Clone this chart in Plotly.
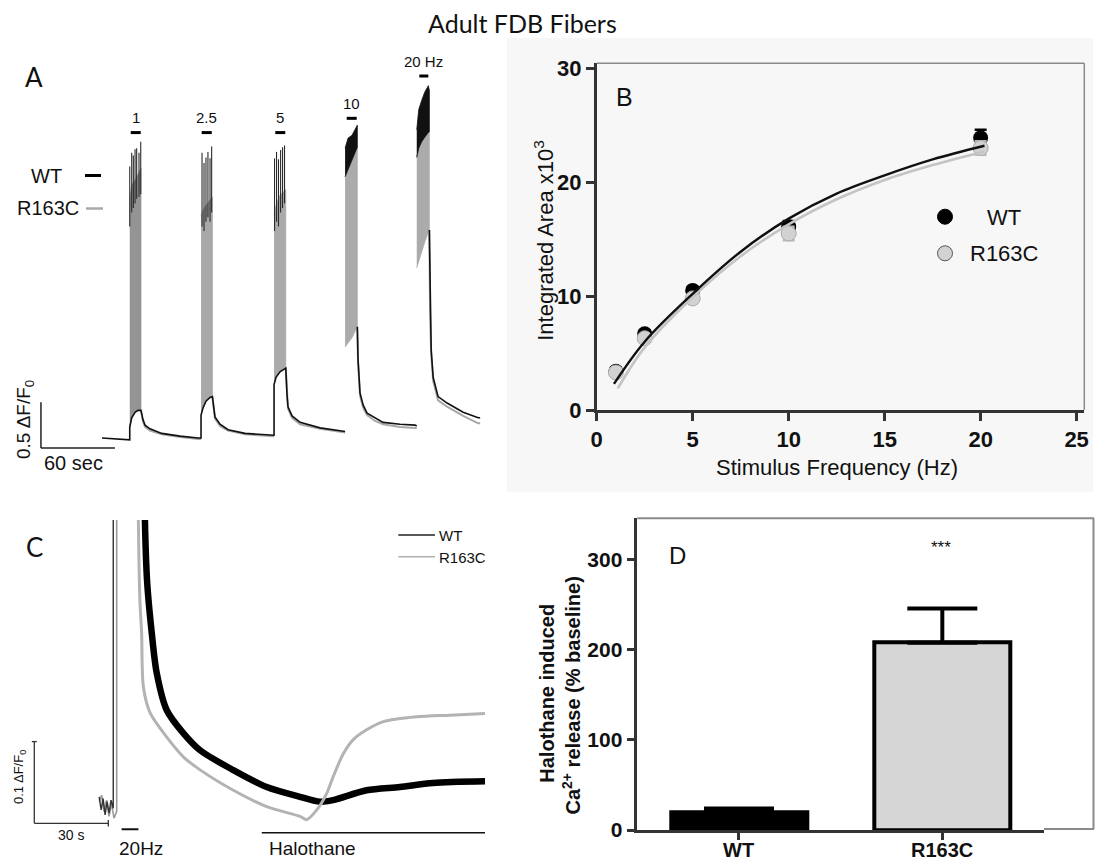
import plotly.graph_objects as go

W, H = 1095, 860
def px(x): return x / W
def py(y): return 1 - y / H

# ---------------- Panel A data (time in s, signal in dF/F0) ----------------
pre_t = [0.0, 21.9, 22.5]
pre_wt = [0.0, -0.02, -0.02]

burst_t = [[22.5, 24.1, 26.8, 29.2, 31.6],
           [80.3, 82.0, 84.3, 87.6, 89.5],
           [139.5, 141.1, 144.3, 149.0],
           [197.1, 199.5, 202.7, 207.0],
           [255.2, 256.8, 259.2, 261.7, 264.6, 265.4]]
burst_low = [[0.12, 0.22, 0.28, 0.30, 0.30],
             [0.25, 0.33, 0.40, 0.44, 0.45],
             [0.58, 0.66, 0.72, 0.76],
             [0.99, 1.03, 1.09, 1.21],
             [1.85, 1.93, 2.03, 2.13, 2.24, 2.26]]
burst_r163c_top = [[2.59, 2.75, 2.80, 2.86, 2.93],
                   [2.42, 2.48, 2.53, 2.59, 2.62],
                   [2.42, 2.53, 2.64, 2.70],
                   [2.84, 2.91, 3.02, 3.16],
                   [3.05, 3.15, 3.22, 3.27, 3.32, 3.33]]
burst_wt_top = [None, None, None,
                [3.15, 3.26, 3.29, 3.40],
                [3.35, 3.57, 3.67, 3.76, 3.83, 3.78]]

spike_t = [[22.5, 24.1, 25.4, 26.8, 28.1, 30.0, 31.4],
           [81.1, 82.7, 84.3, 85.9, 87.6, 88.9],
           [139.9, 141.5, 143.1, 144.8, 146.4, 148.0]]
spike_peak = [[2.95, 3.10, 3.07, 3.14, 3.15, 3.10, 3.22],
              [3.10, 2.99, 3.05, 3.11, 3.04, 3.17],
              [3.04, 3.11, 3.03, 3.13, 3.16, 3.18]]
spike_base = [[2.30, 2.45, 2.50, 2.55, 2.60, 2.62, 2.65],
              [2.30, 2.25, 2.35, 2.40, 2.35, 2.45],
              [2.25, 2.35, 2.30, 2.45, 2.50, 2.55]]

decay_t = [[33.2, 34.9, 38.9, 48.4, 63.3, 77.9, 80.3],
           [90.8, 91.6, 95.7, 102.2, 116.0, 137.9, 139.5],
           [150.0, 150.8, 154.1, 160.6, 176.8, 195.5, 197.1],
           [207.6, 209.2, 211.7, 214.9, 221.4, 227.9, 241.7, 253.8, 255.2],
           [266.0, 266.9, 268.5, 272.5, 279.8, 292.8, 305.0, 306.6]]
decay_wt = [[0.20, 0.14, 0.10, 0.05, 0.02, 0.00, 0.00],
            [0.30, 0.23, 0.15, 0.09, 0.05, 0.03, 0.03],
            [0.47, 0.34, 0.24, 0.17, 0.11, 0.08, 0.07],
            [0.85, 0.49, 0.36, 0.27, 0.22, 0.17, 0.15, 0.14, 0.13],
            [1.39, 0.96, 0.66, 0.45, 0.38, 0.28, 0.22, 0.22]]
decay_r163c = [[0.18, 0.12, 0.08, 0.04, 0.01, -0.01, -0.01],
               [0.28, 0.21, 0.13, 0.08, 0.04, 0.02, 0.02],
               [0.45, 0.32, 0.22, 0.15, 0.10, 0.07, 0.06],
               [0.83, 0.46, 0.33, 0.25, 0.185, 0.15, 0.12, 0.11, 0.11],
               [1.35, 0.92, 0.62, 0.41, 0.34, 0.24, 0.16, 0.16]]

stim_labels = ["1", "2.5", "5", "10", "20 Hz"]
stim_on = [23.3, 80.8, 140.5, 198.4, 257.3]
stim_off = [31.4, 89.0, 148.6, 206.5, 264.6]
stim_level = [3.32, 3.32, 3.32, 3.475, 3.935]

# ---------------- Panel B data ----------------
freq = [1, 2.5, 5, 10, 20]
area_wt = [3.4, 6.7, 10.5, 16.1, 23.9]
area_wt_err = [0.3, 0.3, 0.3, 0.5, 0.7]
area_r163c = [3.3, 6.3, 9.8, 15.5, 23.0]
area_r163c_err = [0.3, 0.3, 0.3, 0.6, 0.6]
fit_x_wt = [0.9, 2.5, 5, 7.5, 10, 12.5, 15, 17.5, 20.2]
fit_wt = [2.3, 6.0, 10.2, 13.9, 16.8, 19.0, 20.6, 22.0, 23.2]
fit_x_r163c = [1.1, 2.5, 5, 7.5, 10, 12.5, 15, 17.5, 20.2]
fit_r163c = [1.9, 5.5, 9.9, 13.5, 16.3, 18.5, 20.2, 21.5, 22.7]

# ---------------- Panel C data (time in s, dF/F0) ----------------
c_pre_t_wt = [26.3, 27.1, 27.9, 28.7, 29.5, 30.3, 31.1, 32.0, 32.0]
c_pre_wt = [0.010, -0.006, 0.008, -0.012, 0.004, -0.010, 0.006, -0.004, 0.60]
c_pre_t_r = [26.3, 27.3, 28.3, 29.3, 30.3, 31.3, 32.3, 33.4, 33.4]
c_pre_r = [0.004, 0.012, -0.008, 0.006, -0.014, 0.002, -0.016, -0.008, 0.60]
c_t_wt = [44.2, 44.5, 45.7, 47.6, 49.6, 53.7, 60.4, 67.2, 80.5, 94.2, 107.7,
          115.8, 121.1, 134.7, 148.2, 161.6, 182.7]
c_wt = [0.60, 0.40, 0.275, 0.211, 0.162, 0.116, 0.088, 0.067, 0.043, 0.022, 0.010,
        0.004, 0.006, 0.018, 0.022, 0.027, 0.029]
c_t_r = [41.8, 42.0, 42.8, 43.5, 44.2, 46.9, 53.7, 60.4, 67.2, 80.7, 94.2, 107.7,
         110.4, 114.5, 118.5, 121.2, 125.3, 129.3, 134.7, 141.5, 155.0, 168.5, 182.7]
c_r = [0.60, 0.40, 0.251, 0.211, 0.145, 0.113, 0.083, 0.059, 0.043, 0.018, -0.002,
       -0.014, -0.018, -0.006, 0.014, 0.035, 0.063, 0.080, 0.092, 0.102, 0.108,
       0.110, 0.112]

# ---------------- Panel D data ----------------
d_groups = ["WT", "R163C"]
d_mean = [20, 208]
d_sem = [4, 38]

# ---------------- Figure ----------------
SANS = "Liberation Sans, Arial, sans-serif"
CAL = "Lato, Open Sans, sans-serif"
fig = go.Figure()
A = dict(xaxis="x", yaxis="y", hoverinfo="skip", showlegend=False)
B = dict(xaxis="x2", yaxis="y2", hoverinfo="skip", showlegend=False)
C = dict(xaxis="x3", yaxis="y3", hoverinfo="skip", showlegend=False)
D = dict(xaxis="x4", yaxis="y4", hoverinfo="skip", showlegend=False)

fills = ["#949494", "#a8a8a8", "#aaaaaa", "#ababab", "#ababab"]
for i in range(5):
    t, lo, top = burst_t[i], burst_low[i], burst_r163c_top[i]
    fig.add_trace(go.Scatter(x=t + t[::-1], y=top + lo[::-1], mode="lines", fill="toself",
                             fillcolor=fills[i], line=dict(width=0.8, color=fills[i]), **A))
    if burst_wt_top[i] is not None:
        wt = burst_wt_top[i]
        fig.add_trace(go.Scatter(x=t + t[::-1], y=wt + top[::-1], mode="lines", fill="toself",
                                 fillcolor="#111", line=dict(width=0.8, color="#111"), **A))

sx, sy = [], []
for i in range(3):
    for t, pk, b in zip(spike_t[i], spike_peak[i], spike_base[i]):
        sx += [t, t, None]
        sy += [b, pk, None]
fig.add_trace(go.Scatter(x=sx, y=sy, mode="lines", line=dict(color="#2a2a2a", width=1.1), **A))

rx, ry = [], []
for i in range(5):
    rx += [burst_t[i][-1]] + decay_t[i] + [None]
    ry += [burst_low[i][-1]] + decay_r163c[i] + [None]
fig.add_trace(go.Scatter(x=rx, y=ry, mode="lines", line=dict(color="#a8a8a8", width=2), **A))

wx, wy = list(pre_t), list(pre_wt)
for i in range(5):
    if i < 3:
        wx += burst_t[i]
        wy += burst_low[i]
    else:
        wx += [None, burst_t[i][-1]]
        wy += [None, burst_low[i][-1]]
    wx += decay_t[i]
    wy += decay_wt[i]
fig.add_trace(go.Scatter(x=wx, y=wy, mode="lines", line=dict(color="#111", width=1.6), **A))

fig.add_trace(go.Scatter(x=freq, y=area_wt, mode="markers",
                         marker=dict(size=15, color="black"),
                         error_y=dict(type="data", array=area_wt_err, color="black", thickness=2.5, width=6), **B))
fig.add_trace(go.Scatter(x=freq, y=area_r163c, mode="markers",
                         marker=dict(size=15, color="#d2d2d2", line=dict(color="#aaaaaa", width=1)),
                         error_y=dict(type="data", array=area_r163c_err, color="#bdbdbd", thickness=2.5, width=6), **B))
fig.add_trace(go.Scatter(x=fit_x_r163c, y=fit_r163c, mode="lines",
                         line=dict(color="#c4c4c4", width=2.6, shape="spline"), **B))
fig.add_trace(go.Scatter(x=fit_x_wt, y=fit_wt, mode="lines",
                         line=dict(color="#111", width=2.4, shape="spline"), **B))

fig.add_trace(go.Scatter(x=c_pre_t_r, y=c_pre_r, mode="lines", line=dict(color="#9a9a9a", width=1.6), **C))
fig.add_trace(go.Scatter(x=c_pre_t_wt, y=c_pre_wt, mode="lines", line=dict(color="#333", width=1.4), **C))
fig.add_trace(go.Scatter(x=c_t_wt, y=c_wt, mode="lines",
                         line=dict(color="#000", width=6.5, shape="spline", smoothing=0.8), **C))
fig.add_trace(go.Scatter(x=c_t_r, y=c_r, mode="lines",
                         line=dict(color="#b3b3b3", width=3, shape="spline", smoothing=0.8), **C))

fig.add_trace(go.Bar(x=[0, 1], y=d_mean, width=0.67,
                     marker=dict(color=["#000000", "#d6d6d6"], line=dict(color="#000", width=4)),
                     error_y=dict(type="data", array=d_sem, arrayminus=[0, 0], symmetric=False,
                                  color="#000", thickness=4, width=35), **D))

hidden = dict(visible=False, showgrid=False, zeroline=False, automargin=False)
tickB = dict(family=SANS, size=22, color="#111", weight="bold")
tickD = dict(family=SANS, size=21, color="#111", weight="bold")
axstyle = dict(showline=True, linecolor="#333", linewidth=2.5, ticks="outside", tickwidth=2.5,
               tickcolor="#333", showgrid=False, zeroline=False, automargin=False)
fig.update_layout(
    template="none",
    width=W, height=H, margin=dict(l=0, r=0, t=0, b=0, pad=0, autoexpand=False),
    paper_bgcolor="white", plot_bgcolor="white", showlegend=False,
    font=dict(family=SANS, color="#111"),
    bargap=0,
    xaxis=dict(domain=[0, px(500)], range=[-82.70, 322.70], **hidden),
    yaxis=dict(domain=[py(480), py(60)], range=[-0.4565, 4.109], **hidden),
    xaxis2=dict(domain=[px(596.7), px(1084.3)], range=[0, 25.4], anchor="y2",
                tickvals=[0, 5, 10, 15, 20, 25], ticklen=8, tickfont=tickB, **axstyle),
    yaxis2=dict(domain=[py(410), py(63.3)], range=[0, 30.44], anchor="x2",
                tickvals=[0, 10, 20, 30], ticklen=8, tickfont=tickB, **axstyle),
    xaxis3=dict(domain=[0, px(500)], range=[-13.90, 188.77], anchor="y3", **hidden),
    yaxis3=dict(domain=[0, py(520)], range=[-0.06732, 0.34884], anchor="x3", **hidden),
    xaxis4=dict(domain=[px(637.3), px(1044)], range=[-0.5, 1.5], anchor="y4",
                tickvals=[0, 1], showticklabels=False, ticklen=7, **axstyle),
    yaxis4=dict(domain=[py(830), py(518.3)], range=[0, 346.3], anchor="x4",
                tickvals=[0, 100, 200, 300], ticklen=8, tickfont=tickD, **axstyle),
)

shapes = []
shapes.append(dict(type="rect", xref="paper", yref="paper", x0=px(507), x1=px(1093), y0=py(492), y1=py(38),
                   fillcolor="#f7f7f7", line=dict(width=0), layer="below"))
def pline(x0, y0, x1, y1, color, width):
    shapes.append(dict(type="line", xref="paper", yref="paper", x0=px(x0), y0=py(y0), x1=px(x1), y1=py(y1),
                       line=dict(color=color, width=width)))
pline(596.7, 63.3, 1084.3, 63.3, "#8a8a8a", 1.5)
pline(1084.3, 63.3, 1084.3, 410, "#8a8a8a", 1.5)
pline(637.3, 518.3, 1094, 518.3, "#8a8a8a", 2)
pline(1093.5, 518.3, 1093.5, 829, "#8a8a8a", 2)
pline(1044, 829, 1094, 829, "#8a8a8a", 2)

def dline(xr, yr, x0, y0, x1, y1, color="#111", width=1.5):
    shapes.append(dict(type="line", xref=xr, yref=yr, x0=x0, y0=y0, x1=x1, y1=y1,
                       line=dict(color=color, width=width)))
sbA_t, sbA_y = -49.5, -0.11
dline("x", "y", sbA_t, sbA_y, sbA_t, sbA_y + 0.5, "#222", 1.5)
dline("x", "y", sbA_t, sbA_y, sbA_t + 60, sbA_y, "#222", 1.5)
for on, off, lv in zip(stim_on, stim_off, stim_level):
    dline("x", "y", on, lv, off, lv, "#000", 3)
pline(85, 175.5, 101, 175.5, "#000", 3)
pline(86, 208.5, 103, 208.5, "#aaaaaa", 2.5)
sbC_t, sbC_y = 0.0, -0.0224
dline("x3", "y3", sbC_t, sbC_y, sbC_t, sbC_y + 0.1, "#333", 1.3)
dline("x3", "y3", sbC_t, sbC_y, sbC_t + 30, sbC_y, "#333", 1.3)
dline("x3", "y3", sbC_t - 1.0, sbC_y + 0.1, sbC_t + 1.0, sbC_y + 0.1, "#333", 1.3)
dline("x3", "y3", sbC_t + 30, sbC_y - 0.004, sbC_t + 30, sbC_y + 0.004, "#333", 1.3)
dline("x3", "y3", 35.4, -0.0297, 42.2, -0.0297, "#111", 2)
dline("x3", "y3", 92.2, -0.0339, 182.7, -0.0339, "#111", 1.6)
pline(398.3, 535, 435, 535, "#222", 1.5)
pline(398.3, 556.7, 435, 556.7, "#b0b0b0", 1.5)
for cy, fc, lc in [(216.7, "#000", "#000"), (253.3, "#d2d2d2", "#555")]:
    shapes.append(dict(type="circle", xref="paper", yref="paper",
                       x0=px(937.5), x1=px(952.5), y0=py(cy + 7.5), y1=py(cy - 7.5),
                       fillcolor=fc, line=dict(color=lc, width=1)))

ann = []
def txt(x, y, s, size, family=SANS, angle=0, xanchor="center", color="#111"):
    ann.append(dict(x=px(x), y=py(y), xref="paper", yref="paper", text=s, showarrow=False,
                    font=dict(size=size, family=family, color=color), textangle=angle,
                    xanchor=xanchor, yanchor="middle"))
txt(522.5, 23, "Adult FDB Fibers", 25, CAL)
txt(34, 77, "A", 26, CAL)
txt(34, 547, "C", 26, CAL)
txt(624.4, 97, "B", 25)
txt(677, 555, "D", 24)
txt(46.5, 176, "WT", 20)
txt(48, 208, "R163C", 20)
txt(73, 463, "60 sec", 20)
txt(25, 420, "0.5 ΔF/F<sub>0</sub>", 19, angle=-90)
for on, off, lv, lab in zip(stim_on, stim_off, stim_level, stim_labels):
    ann.append(dict(x=(on + off) / 2, y=lv + 0.16, xref="x", yref="y", text=lab, showarrow=False,
                    font=dict(size=15, family=SANS, color="#111"), yanchor="middle"))
txt(543.8, 240, "Integrated Area x10<sup>3</sup>", 22, angle=-90)
txt(836.7, 467, "Stimulus Frequency (Hz)", 22)
txt(1003.7, 217, "WT", 22)
txt(1004.5, 253, "R163C", 22)
txt(19, 777, "0.1 ΔF/F<sub>0</sub>", 13, angle=-90)
txt(71, 835, "30 s", 14)
txt(141, 848, "20Hz", 19)
txt(266.7, 848, "Halothane", 19, xanchor="left")
txt(437, 535, "WT", 15, xanchor="left")
txt(437, 557, "R163C", 15, xanchor="left")
txt(546.7, 693, "<b>Halothane induced</b>", 20, angle=-90)
txt(570.5, 696, "<b>Ca<sup>2+</sup> release (% baseline)</b>", 20, angle=-90)
txt(941.4, 547, "***", 17)
# D category labels placed on the category axis
for i, g in enumerate(d_groups):
    ann.append(dict(x=i, y=py(850), xref="x4", yref="paper", text="<b>%s</b>" % g, showarrow=False,
                    font=dict(size=20, family=SANS, color="#111"), xanchor="center", yanchor="middle"))

fig.update_layout(shapes=shapes, annotations=ann)
fig.write_html("out.html", config={"displayModeBar": False},
               post_script="var gd=document.getElementById('{plot_id}');"
                           "gd.style.position='fixed';gd.style.left='0px';gd.style.top='0px';"
                           "document.documentElement.style.margin='0';document.body.style.margin='0';"
                           "document.documentElement.style.overflow='hidden';"
                           "document.body.style.overflow='hidden';")
